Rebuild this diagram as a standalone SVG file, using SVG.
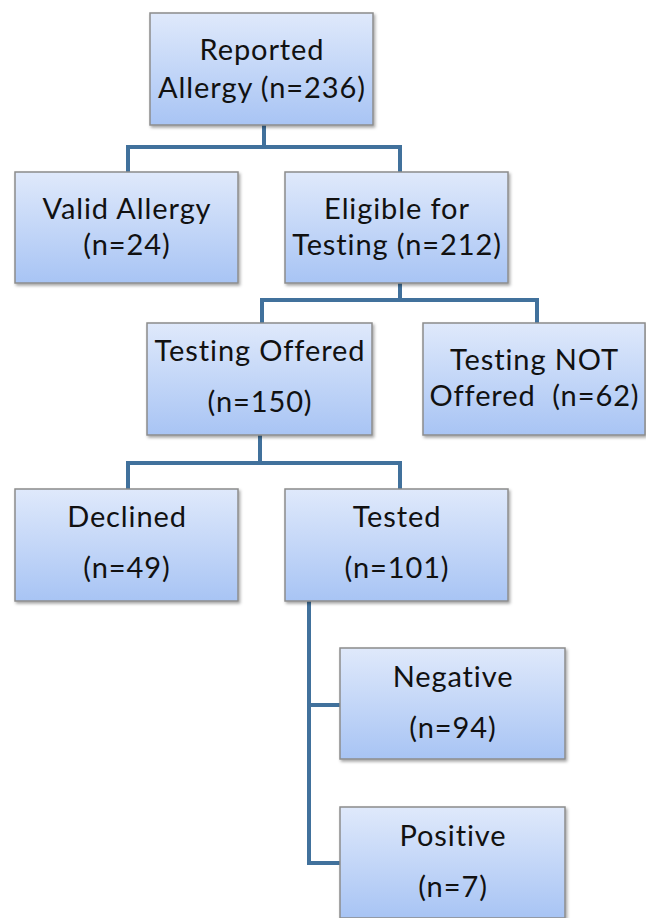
<svg xmlns="http://www.w3.org/2000/svg" width="646" height="918" viewBox="0 0 646 918">
<defs>
<linearGradient id="g" x1="0" y1="0" x2="0" y2="1">
<stop offset="0" stop-color="#dfe9fb"/>
<stop offset="1" stop-color="#a8c4f4"/>
</linearGradient>
<filter id="sh" x="-10%" y="-10%" width="130%" height="130%">
<feDropShadow dx="1.5" dy="2" stdDeviation="1.5" flood-color="#000" flood-opacity="0.35"/>
</filter>
</defs>
<style>
.box{fill:url(#g);stroke:#8c8c8c;stroke-width:1.5;filter:url(#sh)}
.t{font-family:Lato,"Open Sans","Liberation Sans",sans-serif;font-size:29px;letter-spacing:0.9px;fill:#111;text-anchor:middle;white-space:pre}
.c{fill:none;stroke:#41719c;stroke-width:4}
</style>
<rect width="646" height="918" fill="#fff"/>
<g id="connectors">
<path class="c" d="M264 125V147M128 172V147H400V172"/>
<path class="c" d="M400 283V300M262 323V300H537V323"/>
<path class="c" d="M260 435V463M128 489V463H400V489"/>
<path class="c" d="M309 601V863H340M309 705H340"/>
</g>
<g id="reported">
<rect class="box" x="150" y="13" width="223" height="112"/>
<text class="t" x="262" y="60">Reported</text>
<text class="t" x="262" y="98">Allergy (n=236)</text>
</g>
<g id="valid">
<rect class="box" x="15" y="172" width="223" height="111"/>
<text class="t" x="127" y="219">Valid Allergy</text>
<text class="t" x="127" y="255">(n=24)</text>
</g>
<g id="eligible">
<rect class="box" x="285" y="172" width="223" height="111"/>
<text class="t" x="397" y="219">Eligible for</text>
<text class="t" x="397" y="255">Testing (n=212)</text>
</g>
<g id="offered">
<rect class="box" x="147" y="323" width="225" height="112"/>
<text class="t" x="260" y="361">Testing Offered</text>
<text class="t" x="260" y="412">(n=150)</text>
</g>
<g id="notoffered">
<rect class="box" x="423" y="323" width="222" height="112"/>
<text class="t" x="534.5" y="370">Testing NOT</text>
<text class="t" x="534.5" y="406">Offered  (n=62)</text>
</g>
<g id="declined">
<rect class="box" x="15" y="489" width="223" height="112"/>
<text class="t" x="127" y="527">Declined</text>
<text class="t" x="127" y="578">(n=49)</text>
</g>
<g id="tested">
<rect class="box" x="285" y="489" width="223" height="112"/>
<text class="t" x="397" y="527">Tested</text>
<text class="t" x="397" y="578">(n=101)</text>
</g>
<g id="negative">
<rect class="box" x="340" y="648" width="225" height="111"/>
<text class="t" x="453" y="687">Negative</text>
<text class="t" x="453" y="738">(n=94)</text>
</g>
<g id="positive">
<rect class="box" x="340" y="807" width="225" height="111"/>
<text class="t" x="453" y="846">Positive</text>
<text class="t" x="453" y="897">(n=7)</text>
</g>
</svg>
